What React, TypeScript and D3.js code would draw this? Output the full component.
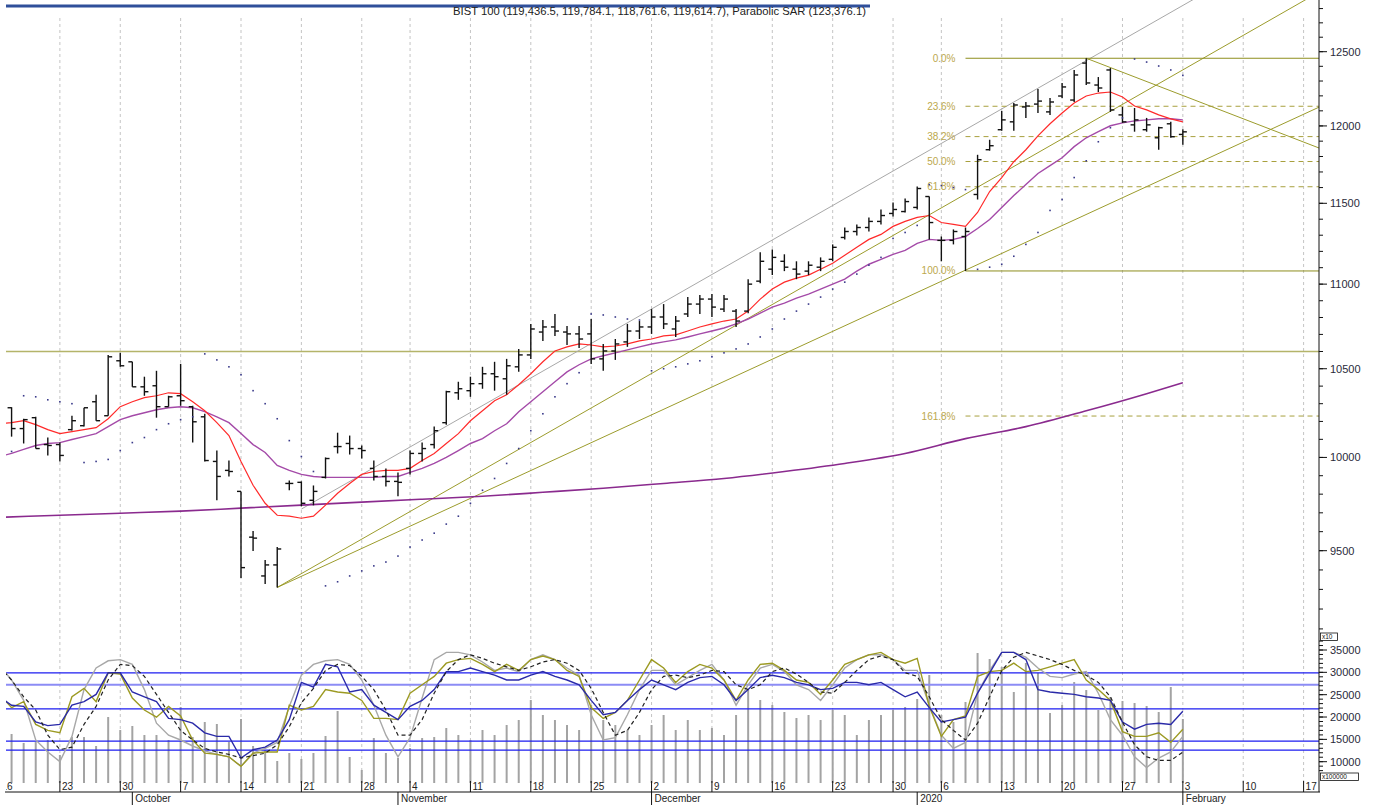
import React from "react";
import * as d3 from "d3";

const width = 1374;
const height = 805;

// ---- calendar (trading days) ----
const holidays = ["2019-10-29", "2020-01-01"];
const fmt = d3.timeFormat("%Y-%m-%d");
const isTrading = (d: Date) => d.getDay() !== 0 && d.getDay() !== 6 && !holidays.includes(fmt(d));
const axisDays = d3.timeDays(new Date(2019, 8, 16), new Date(2020, 1, 22)).filter(isTrading);
const monthLabels = ["October", "November", "December", "2020", "February"];

// ---- price bars (x10) ----
const open = [10243,10277,10160,10221,10071,10071,10154,10176,10311,10232,10546,10540,10396,10402,10283,10345,10283,10226,9978,9929,9815,9571,9369,9426,9858,9864,9767,9891,10060,10077,10049,9940,9896,9869,9940,10022,10071,10193,10362,10374,10414,10471,10442,10511,10580,10714,10744,10714,10703,10703,10557,10603,10656,10720,10744,10803,10732,10821,10880,10910,10850,10838,10838,11018,11091,11139,11091,11079,11103,11151,11286,11323,11348,11386,11436,11448,11474,11543,11268,11268,11292,11556,11844,11975,12027,12126,12145,12093,12199,12172,12422,12273,12375,12073,12007,11975,11922,12014,11944];
const high = [10300,10280,10215,10226,10110,10082,10232,10277,10351,10580,10592,10540,10454,10488,10345,10528,10288,10243,10038,9983,9815,9603,9451,9519,9874,9869,9847,10000,10137,10121,10066,9983,9940,9918,10038,10082,10171,10374,10425,10454,10511,10540,10557,10615,10762,10785,10821,10750,10750,10791,10644,10673,10762,10779,10850,10880,10809,10922,10934,10940,10934,10850,11030,11194,11212,11182,11139,11139,11163,11243,11348,11367,11411,11461,11505,11530,11607,11543,11292,11336,11348,11811,11909,12099,12152,12159,12246,12186,12287,12375,12455,12327,12388,12126,12119,12053,11994,12027,11978];
const low = [10187,10115,10077,10049,10011,9978,10149,10171,10204,10232,10511,10396,10345,10221,10283,10288,10082,9978,9767,9896,9359,9498,9328,9310,9821,9735,9740,9885,10022,10016,9994,9874,9842,9789,9907,9978,10049,10182,10322,10339,10385,10374,10351,10482,10557,10662,10691,10638,10621,10528,10488,10551,10627,10673,10703,10732,10685,10803,10821,10803,10832,10744,10826,11006,11055,11079,11030,11055,11079,11139,11274,11298,11323,11367,11417,11442,11461,11274,11139,11243,11080,11524,11838,11969,11969,12053,12086,12073,12186,12159,12273,12226,12093,12020,11962,11962,11844,11922,11876];
const close = [10272,10160,10210,10049,10066,10011,10204,10277,10204,10569,10517,10396,10368,10283,10339,10317,10198,9983,9896,9923,9412,9566,9426,9509,9858,9751,9815,9994,10060,10049,10038,9896,9869,9864,10022,10049,10148,10368,10385,10414,10471,10454,10517,10580,10732,10744,10720,10703,10673,10557,10603,10644,10720,10744,10803,10762,10779,10880,10910,10862,10910,10779,11000,11139,11163,11103,11061,11115,11139,11225,11323,11348,11386,11423,11461,11511,11594,11379,11268,11323,11323,11779,11870,12040,12139,12132,12165,12159,12260,12341,12287,12253,12106,12027,12040,12007,11988,11929,11961];

// short and mid moving averages, parabolic SAR
const maFast = [10187,10193,10204,10182,10154,10132,10143,10154,10165,10215,10283,10311,10334,10345,10362,10357,10311,10260,10193,10121,9978,9848,9751,9687,9682,9671,9682,9741,9805,9858,9907,9923,9929,9929,9940,9983,10022,10077,10132,10204,10260,10317,10351,10408,10471,10540,10603,10627,10644,10638,10627,10632,10644,10662,10673,10691,10697,10720,10744,10762,10779,10791,10838,10910,10970,11012,11036,11055,11090,11127,11176,11225,11274,11305,11355,11386,11411,11423,11379,11367,11355,11442,11575,11664,11766,11844,11935,12014,12086,12152,12199,12219,12226,12192,12132,12106,12073,12047,12027];
const maMid = [10005,10022,10044,10066,10077,10082,10099,10115,10132,10171,10210,10232,10249,10266,10277,10283,10277,10255,10226,10193,10132,10071,10027,9956,9929,9907,9896,9891,9891,9891,9891,9891,9896,9896,9918,9940,9967,10000,10038,10077,10104,10148,10187,10255,10311,10368,10425,10482,10523,10557,10575,10592,10609,10627,10644,10656,10668,10685,10703,10720,10738,10762,10791,10826,10862,10886,10916,10940,10970,11000,11030,11079,11121,11151,11182,11206,11249,11274,11268,11274,11292,11342,11398,11474,11549,11619,11690,11741,11792,11864,11922,11962,12001,12020,12033,12040,12047,12047,12040];
const sar = [10022,10033,10345,10339,10322,10311,10300,9972,9978,9989,10038,10082,10110,10154,10187,10210,10226,10586,10551,10511,10465,10374,10300,10215,10093,10005,9923,9318,9339,9369,9395,9421,9441,9472,9519,9556,9592,9640,9682,9751,9821,9885,9967,10049,10148,10243,10339,10414,10477,10821,10815,10803,10791,10785,10488,10500,10511,10528,10546,10569,10592,10615,10644,10685,10732,10791,10838,10880,10922,10970,11012,11061,11115,11163,11280,11317,11361,11619,11613,11600,11587,11090,11103,11121,11170,11243,11317,11455,11524,11664,11772,11896,11988,12053,12450,12429,12402,12375,12338];
// long average, read weekly
const maLongIdx = [0,5,10,15,20,25,30,35,40,45,50,55,60,65,70,75,80,85,90,95,98];
const maLong = [9676,9687,9698,9709,9725,9741,9757,9773,9789,9810,9832,9858,9885,9923,9967,10022,10104,10171,10260,10357,10420];

// ---- lower panel ----
const volume = [15970,16200,14200,14400,14850,11500,15520,15520,13510,20000,17090,17990,15970,15970,14850,22240,15520,18890,18440,14400,19560,13510,12610,10160,11950,10600,11950,15750,21350,11050,8140,15300,11950,10830,13060,15300,15520,17540,15970,14850,17090,15970,18210,19330,23810,20450,19330,18210,17090,22690,19330,18210,17090,15970,18210,20450,17090,19330,17090,17540,15970,20450,26040,23810,22690,21120,19780,20450,19330,21570,20450,15970,19330,20450,21570,22240,24030,29400,20450,18890,23360,34330,32990,31200,25600,32100,29870,20900,22690,27830,26040,21570,24480,23580,23140,22470,21120,26720,19560];
const oscGray = [87,75,58,25,15,7,28,67,85,91,92,88,67,39,29,25,20,16,13,11,3,14,18,23,53,79,88,91,92,88,75,54,29,11,27,60,92,98,98,96,90,83,85,82,92,96,92,85,79,46,25,27,46,67,83,83,71,77,83,88,75,54,71,85,88,82,71,67,58,71,85,92,96,96,92,83,83,54,29,18,23,64,83,98,98,94,85,78,77,80,82,64,42,29,11,2,10,15,28];
const oscDash = [86,75,61,50,29,17,19,38,53,75,88,87,78,63,48,33,25,18,15,13,10,12,14,21,36,56,68,83,88,87,78,67,50,29,29,42,64,82,92,96,93,89,86,83,86,90,92,89,83,68,48,29,33,48,67,78,79,77,79,83,82,71,67,71,82,85,80,73,65,64,73,83,92,95,92,81,78,61,42,33,25,39,61,83,94,98,95,92,88,83,79,73,61,40,21,11,8,8,15];
const oscBlue = [61,54,53,40,37,38,54,57,63,81,81,65,61,57,43,42,39,31,28,28,10,17,19,25,42,73,69,88,86,65,67,54,48,42,53,58,67,82,82,85,82,79,75,75,79,82,78,75,71,58,46,48,58,67,75,71,67,73,77,78,71,58,67,77,79,77,73,71,67,68,73,73,71,73,67,61,65,52,40,42,44,64,81,98,98,92,67,65,64,63,61,60,58,40,34,38,39,38,49];
const oscOlive = [63,52,57,38,33,31,61,68,57,81,80,60,50,44,53,45,25,14,13,11,3,14,15,15,54,50,53,67,65,64,58,43,43,42,64,71,78,89,92,93,88,82,88,83,92,95,92,83,78,52,43,48,58,75,92,85,73,82,88,85,75,58,75,88,89,83,75,73,63,75,88,92,96,98,92,89,93,53,28,42,45,78,82,83,89,82,83,86,89,92,75,67,58,32,28,28,31,23,34];
const oscLevels = [81, 71, 51, 24, 16.5];

// ---- drawing objects ----
const hLevel = 10600;
const fibHigh = 12455;
const fibLow = 11080;
const fibStart = 80;
const fibRatios = [0, 0.236, 0.382, 0.5, 0.618, 1, 1.618];
const fibLabels = ["0.0%", "23.6%", "38.2%", "50.0%", "61.8%", "100.0%", "161.8%"];
const trendLines = [
  { a: [23, 9310], b: [100, 12470], color: "#9c9c2c" },
  { a: [23, 9310], b: [100, 11785], color: "#9c9c2c" },
  { a: [25, 9720], b: [95, 12677], color: "#a8a8a8" },
  { a: [90, 12455], b: [108, 11894], color: "#9c9c2c" },
];

const priceTicks = [9500, 10000, 10500, 11000, 11500, 12000, 12500];
const volTicks = [10000, 15000, 20000, 25000, 30000, 35000];
const titleText = "BIST 100 (119,436.5, 119,784.1, 118,761.6, 119,614.7), Parabolic SAR (123,376.1)";

const plotLeft = 6;
const plotRight = 1319;
const mainBottom = 633;
const lowTop = 640;
const lowBottom = 783;
const axisY = 792;

export default function App() {
  const x = d3.scaleLinear().domain([0, 108]).range([-0.5, 1303.6]);
  const y = d3.scaleLog().domain([12500, 9500]).range([51.7, 550.7]);
  const yVol = d3.scaleLinear().domain([10000, 35000]).range([761.7, 650]);
  const yOsc = d3.scaleLinear().domain([0, 100]).range([770, 650]);

  const idx = d3.range(close.length);
  const lineP = (arr: number[]) =>
    d3.line<number>().x((_, i) => x(i)).y((v) => y(v))(arr) as string;
  const lineO = (arr: number[]) =>
    d3.line<number>().x((_, i) => x(i)).y((v) => yOsc(v))(arr) as string;
  const longPath = d3
    .line<number>()
    .x((_, i) => x(maLongIdx[i]))
    .y((v) => y(v))
    .curve(d3.curveMonotoneX)(maLong) as string;

  const weekTicks = axisDays
    .map((d, i) => ({ d, i }))
    .filter((o) => o.d.getDay() === 1);
  const monthTicks = axisDays
    .map((d, i) => ({ d, i }))
    .filter((o, k) => k > 0 && o.d.getMonth() !== axisDays[k - 1].getMonth());

  const minorPrice = d3.range(9100, 12900, 100);
  const minorVol = d3.range(8000, 38000, 1000);

  const extend = (t: { a: number[]; b: number[] }) => {
    const x1 = x(t.a[0]), y1 = y(t.a[1]);
    const x2 = x(t.b[0]), y2 = y(t.b[1]);
    const k = (y2 - y1) / (x2 - x1);
    return { x1, y1, x2: plotRight, y2: y1 + k * (plotRight - x1) };
  };

  const fibLevels = fibRatios.map((r) => fibHigh - r * (fibHigh - fibLow));

  return (
    <svg
      width={width}
      height={height}
      style={{ position: "absolute", left: 0, top: 0, background: "#fff" }}
      fontFamily="'Liberation Sans', Arial, sans-serif"
    >
      <defs>
        <clipPath id="mainClip">
          <rect x={plotLeft} y={0} width={plotRight - plotLeft} height={mainBottom} />
        </clipPath>
        <clipPath id="lowClip">
          <rect x={plotLeft} y={lowTop} width={plotRight - plotLeft} height={lowBottom - lowTop} />
        </clipPath>
        <clipPath id="axisClip">
          <rect x={plotLeft} y={axisY - 14} width={plotRight - plotLeft + 4} height={30} />
        </clipPath>
      </defs>
      <rect width={width} height={height} fill="#fff" />

      {/* top strip */}
      <line x1={6} x2={870} y1={6} y2={6} stroke="#2f4f9a" strokeWidth={3} />
      <text x={453} y={15} fontSize={10.5} fill="#222" textLength={413} lengthAdjust="spacingAndGlyphs">{titleText}</text>

      {/* week grid */}
      {weekTicks.map((t) => (
        <line key={"g" + t.i} x1={x(t.i)} x2={x(t.i)} y1={18} y2={lowBottom}
          stroke="#c4c4c4" strokeDasharray="3,3" />
      ))}

      {/* lower panel */}
      <g clipPath="url(#lowClip)">
        {volume.map((v, i) => (
          <line key={"v" + i} x1={x(i)} x2={x(i)} y1={lowBottom} y2={yVol(v)}
            stroke="#a3a3a3" strokeWidth={2} />
        ))}
        {oscLevels.map((l, k) => (
          <line key={"l" + k} x1={plotLeft} x2={plotRight} y1={yOsc(l)} y2={yOsc(l)}
            stroke={k === 1 ? "#8c8cf5" : "#1d1df0"} strokeWidth={k === 1 ? 2 : 1.2} />
        ))}
        <path d={lineO(oscGray)} fill="none" stroke="#a8a8a8" strokeWidth={1.4} />
        <path d={lineO(oscOlive)} fill="none" stroke="#9c9a22" strokeWidth={1.4} />
        <path d={lineO(oscBlue)} fill="none" stroke="#2a2aa8" strokeWidth={1.4} />
        <path d={lineO(oscDash)} fill="none" stroke="#222" strokeWidth={1.2} strokeDasharray="4,3" />
      </g>

      {/* main panel */}
      <g clipPath="url(#mainClip)">
        <line x1={plotLeft} x2={plotRight} y1={y(hLevel)} y2={y(hLevel)} stroke="#b4b46a" strokeWidth={1.5} />
        {trendLines.map((t, k) => {
          const e = extend(t);
          return <line key={"t" + k} {...e} stroke={t.color} strokeWidth={1} />;
        })}
        {fibLevels.map((v, k) => {
          const solid = k === 0 || k === 5;
          return (
            <g key={"f" + k}>
              <line x1={x(fibStart)} x2={plotRight} y1={y(v)} y2={y(v)}
                stroke={solid ? "#8e8e1e" : "#a8a03e"} strokeWidth={1}
                strokeDasharray={solid ? undefined : "5,4"} />
              <text x={x(fibStart) - 10} y={y(v)} dy="0.35em" textAnchor="end"
                fontSize={10} fill="#bca84c">{fibLabels[k]}</text>
            </g>
          );
        })}
        <path d={longPath} fill="none" stroke="#8a2a8e" strokeWidth={1.6} />
        <path d={lineP(maMid)} fill="none" stroke="#a44aa8" strokeWidth={1.4} />
        <path d={lineP(maFast)} fill="none" stroke="#ff2a2a" strokeWidth={1.2} />
        {idx.map((i) => (
          <g key={"b" + i} stroke="#111" strokeWidth={1.4}>
            <line x1={x(i)} x2={x(i)} y1={y(high[i])} y2={y(low[i])} />
            <line x1={x(i) - 4} x2={x(i)} y1={y(open[i])} y2={y(open[i])} />
            <line x1={x(i)} x2={x(i) + 4} y1={y(close[i])} y2={y(close[i])} />
          </g>
        ))}
        {sar.map((v, i) => (
          <rect key={"s" + i} x={x(i) - 0.8} y={y(v) - 0.8} width={1.6} height={1.6} fill="#3a3a8a" />
        ))}
      </g>

      {/* right axis */}
      <line x1={plotRight} x2={plotRight} y1={0} y2={axisY} stroke="#111" />
      {minorPrice.map((v) => (
        <line key={"mp" + v} x1={plotRight} x2={plotRight + 4} y1={y(v)} y2={y(v)} stroke="#111" />
      ))}
      {priceTicks.map((v) => (
        <g key={"p" + v}>
          <line x1={plotRight} x2={plotRight + 8} y1={y(v)} y2={y(v)} stroke="#111" />
          <text x={plotRight + 11} y={y(v)} dy="0.35em" fontSize={11} fill="#2a2a3a">{v}</text>
        </g>
      ))}
      <rect x={plotRight + 1.5} y={633} width={17} height={7.5} fill="#fff" stroke="#111" strokeWidth={0.8} />
      <text x={plotRight + 3} y={639} fontSize={6.5} fill="#111">x10</text>
      {minorVol.map((v) => (
        <line key={"mv" + v} x1={plotRight} x2={plotRight + 4} y1={yVol(v)} y2={yVol(v)} stroke="#111" />
      ))}
      {volTicks.map((v) => (
        <g key={"vt" + v}>
          <line x1={plotRight} x2={plotRight + 8} y1={yVol(v)} y2={yVol(v)} stroke="#111" />
          <text x={plotRight + 11} y={yVol(v)} dy="0.35em" fontSize={11} fill="#2a2a3a">{v}</text>
        </g>
      ))}
      <rect x={plotRight + 1.5} y={773} width={38} height={7.5} fill="#fff" stroke="#111" strokeWidth={0.8} />
      <text x={plotRight + 3} y={779} fontSize={6.5} fill="#111">x100000</text>

      {/* bottom axis */}
      <line x1={5} x2={plotRight + 1} y1={axisY} y2={axisY} stroke="#111" />
      <g clipPath="url(#axisClip)">
        {weekTicks.map((t) => (
          <g key={"w" + t.i}>
            <line x1={x(t.i)} x2={x(t.i)} y1={axisY - 11} y2={axisY} stroke="#111" />
            <text x={x(t.i) + 2} y={axisY - 2.5} fontSize={10} fill="#222">{t.d.getDate()}</text>
          </g>
        ))}
      </g>
      {monthTicks.map((t, k) => (
        <g key={"m" + t.i}>
          <line x1={x(t.i)} x2={x(t.i)} y1={axisY} y2={height} stroke="#111" />
          <text x={x(t.i) + 3} y={axisY + 10} fontSize={10} fill="#222">{monthLabels[k]}</text>
        </g>
      ))}
    </svg>
  );
}
